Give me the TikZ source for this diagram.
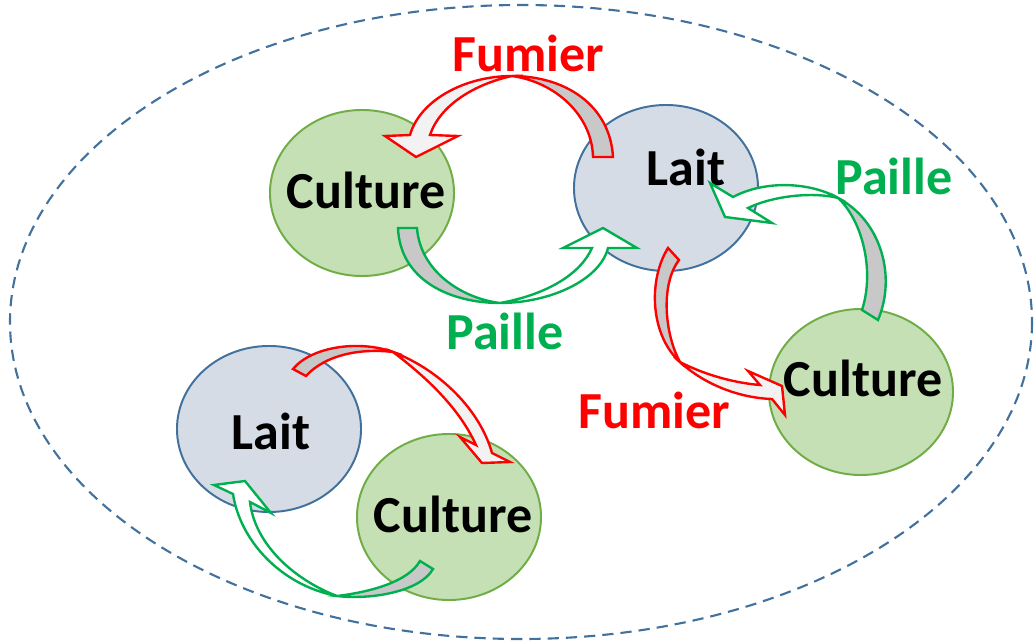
\documentclass[tikz,border=0pt]{standalone}
\usepackage{fontspec}
\setmainfont{Carlito}
\usetikzlibrary{shapes.geometric}
\definecolor{fumier}{HTML}{FF0000}
\definecolor{paille}{HTML}{00B050}
\definecolor{culturefill}{HTML}{C5E0B4}
\definecolor{cultureline}{HTML}{70AD47}
\definecolor{laitfill}{HTML}{D6DCE5}
\definecolor{laitline}{HTML}{41719C}
\definecolor{backface}{HTML}{C8C8C8}
\definecolor{redfront}{HTML}{F2F2F2}

\begin{document}
\begin{tikzpicture}[x=0.025cm, y=-0.025cm,
  big/.style={font=\fontsize{37}{40}\selectfont\bfseries, inner sep=0pt},
  culture/.style={ellipse, draw=cultureline, fill=culturefill, line width=1.4pt, minimum width=4.6cm, minimum height=4.15cm, inner sep=0pt},
  lait/.style={ellipse, draw=laitline, fill=laitfill, line width=1.4pt, minimum width=4.6cm, minimum height=4.15cm, inner sep=0pt},
  flow/.style={line width=1.7pt, line join=miter},
  redback/.style={flow, draw=fumier, fill=backface},
  redfront/.style={flow, draw=fumier, fill=redfront},
  greenback/.style={flow, draw=paille, fill=backface},
  greenfront/.style={flow, draw=paille, fill=white}]
  \useasboundingbox (0,0) rectangle (1034,644);

  \draw[laitline, line width=1.5pt, dash pattern=on 8pt off 5pt] (521,322) ellipse [x radius=511, y radius=317];

  \node[culture] (culture1) at (362,193) {};
  \node[lait] (lait1) at (666,188) {};
  \node[culture] (culture2) at (861,392) {};
  \node[lait] (lait2) at (269,429) {};
  \node[culture] (culture3) at (449,517) {};

  \node[big] (culture1txt) at (366,190) {Culture};
  \node[big] (lait1txt) at (686,167) {Lait};
  \node[big] (culture2txt) at (863,378) {Culture};
  \node[big] (lait2txt) at (271,431) {Lait};
  \node[big] (culture3txt) at (453,514) {Culture};

  \node[big, text=fumier] (fumier1) at (528,53) {Fumier};
  \node[big, text=paille] (paille1) at (505,331) {Paille};
  \node[big, text=paille] (paille2) at (894,176) {Paille};
  \node[big, text=fumier] (fumier2) at (654,410) {Fumier};

  \filldraw[redback] (613,157) .. controls (610,105) and (565,76) .. (512,76)
    .. controls (555,82) and (592,115) .. (593,157) -- cycle;
  \filldraw[redfront] (512,76) .. controls (465,76) and (420,100) .. (410,135)
    -- (385,136) -- (416,157) -- (458,136) -- (430,135)
    .. controls (440,105) and (475,84) .. (512,76) -- cycle;

  \filldraw[greenback] (398,228) .. controls (400,280) and (450,303) .. (500,303)
    .. controls (460,298) and (420,270) .. (417,228) -- cycle;
  \filldraw[greenfront] (500,303) .. controls (550,303) and (600,280) .. (608,248)
    -- (637,248) -- (603,228) -- (563,248) -- (592,248)
    .. controls (580,275) and (545,295) .. (500,303) -- cycle;

  \filldraw[greenback] (878,320) .. controls (897,275) and (880,220) .. (838,198)
    .. controls (862,220) and (875,270) .. (862,310) -- cycle;
  \filldraw[greenfront] (838,198) .. controls (810,182) and (765,180) .. (733,197)
    -- (710,183) -- (725,217) -- (772,223) -- (748,208)
    .. controls (775,195) and (815,192) .. (838,198) -- cycle;

  \filldraw[redback] (668,248) .. controls (648,280) and (650,335) .. (680,362)
    .. controls (665,335) and (660,285) .. (679,260) -- cycle;
  \filldraw[redfront] (680,362) .. controls (705,385) and (740,398) .. (772,399)
    -- (785,415) -- (782,386) -- (748,371) -- (760,385)
    .. controls (735,383) and (705,375) .. (680,362) -- cycle;

  \filldraw[redback] (293,369) .. controls (312,346) and (360,340) .. (393,352)
    .. controls (360,348) and (325,355) .. (306,376) -- cycle;
  \filldraw[redfront] (393,352) .. controls (440,370) and (480,410) .. (492,453)
    -- (510,462) -- (482,463) -- (460,437) -- (476,445)
    .. controls (460,410) and (430,380) .. (393,352) -- cycle;

  \filldraw[greenback] (433,569) .. controls (420,592) and (370,600) .. (337,596)
    .. controls (370,592) and (408,582) .. (420,561) -- cycle;
  \filldraw[greenfront] (337,596) .. controls (280,585) and (240,540) .. (233,494)
    -- (214,485) -- (245,481) -- (271,513) -- (250,502)
    .. controls (255,545) and (295,580) .. (337,596) -- cycle;
\end{tikzpicture}
\end{document}
